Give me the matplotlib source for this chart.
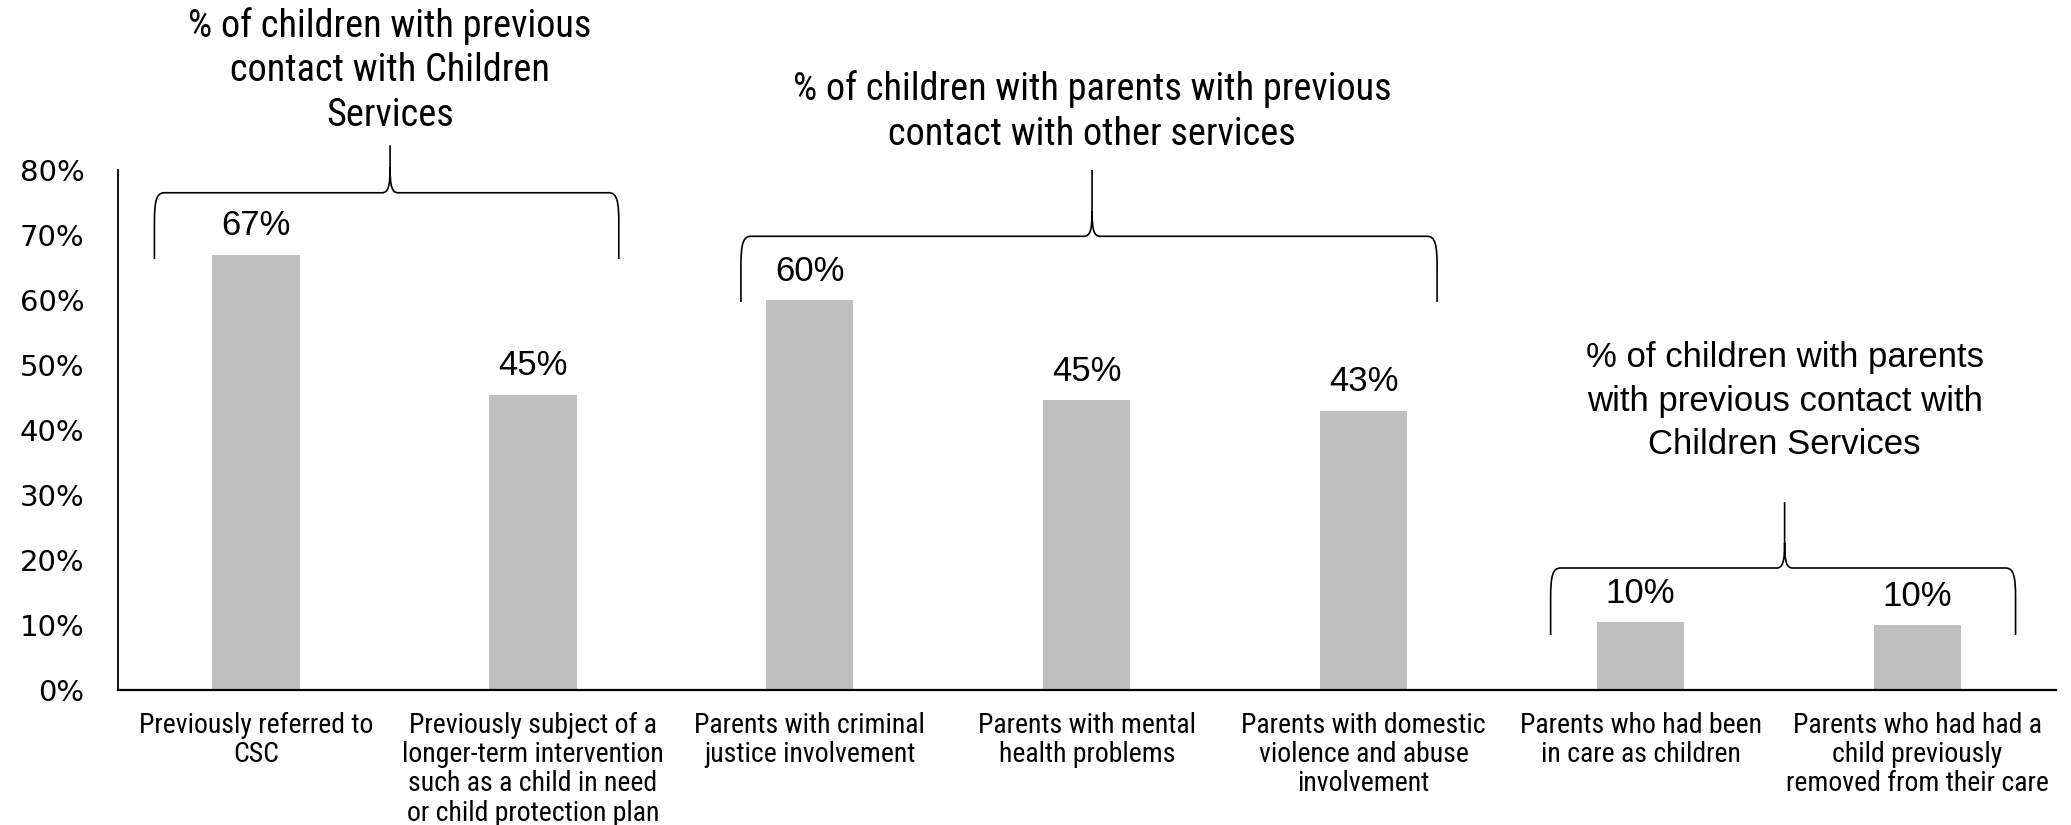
import matplotlib
matplotlib.use("Agg")
import matplotlib.pyplot as plt
from matplotlib.path import Path
from matplotlib.patches import PathPatch
from matplotlib import font_manager
import numpy as np

categories = [
    "Previously referred to\nCSC",
    "Previously subject of a\nlonger-term intervention\nsuch as a child in need\nor child protection plan",
    "Parents with criminal\njustice involvement",
    "Parents with mental\nhealth problems",
    "Parents with domestic\nviolence and abuse\ninvolvement",
    "Parents who had been\nin care as children",
    "Parents who had had a\nchild previously\nremoved from their care",
]
values = [0.67, 0.454, 0.60, 0.446, 0.43, 0.104, 0.10]
value_labels = ["67%", "45%", "60%", "45%", "43%", "10%", "10%"]
yticks = [0, 0.1, 0.2, 0.3, 0.4, 0.5, 0.6, 0.7, 0.8]
ytick_labels = ["0%", "10%", "20%", "30%", "40%", "50%", "60%", "70%", "80%"]
group_titles = [
    "% of children with previous\ncontact with Children\nServices",
    "% of children with parents with previous\ncontact with other services",
    "% of children with parents\nwith previous contact with\nChildren Services",
]

installed = {f.name for f in font_manager.fontManager.ttflist}
narrow_pick = None
for cand in ["Liberation Sans Narrow", "Roboto Condensed", "Open Sans Condensed",
             "Noto Sans Condensed", "Roboto"]:
    if cand in installed:
        narrow_pick = cand
        break
NARROW = [narrow_pick or "DejaVu Sans", "DejaVu Sans"]
REGULAR = ["Liberation Sans", "DejaVu Sans"]

W, H = 2071, 825
fig = plt.figure(figsize=(W / 100, H / 100), dpi=100)
ax_l, ax_r, ax_b, ax_t = 117.6, 2056, 690, 170
ax = fig.add_axes([ax_l / W, 1 - ax_b / H, (ax_r - ax_l) / W, (ax_b - ax_t) / H])

x = np.arange(len(categories))
ax.bar(x, values, width=0.315, color="#BFBFBF", zorder=2)
ax.set_xlim(-0.5, len(categories) - 0.5)
ax.set_ylim(0, 0.8)

for xi, v, lab in zip(x, values, value_labels):
    ax.annotate(lab, (xi, v), xytext=(0, 14), textcoords="offset points",
                ha="center", va="baseline", fontsize=25, family=REGULAR)

ax.set_yticks(yticks)
ax.set_yticklabels(ytick_labels, family="DejaVu Sans", fontsize=21)
ax.set_xticks(x)
ax.set_xticklabels(categories, family=NARROW, fontsize=20, linespacing=1.1)
ax.tick_params(axis="y", length=0, pad=24)
ax.tick_params(axis="x", length=0, pad=16)
for s in ["top", "right"]:
    ax.spines[s].set_visible(False)
ax.spines["left"].set_linewidth(1.3)
ax.spines["bottom"].set_linewidth(1.6)
ax.spines["left"].set_color("black")
ax.spines["bottom"].set_color("black")

px_x = (len(categories)) / (ax_r - ax_l)  # data units per pixel (x)
px_y = 0.8 / (ax_b - ax_t)                # data units per pixel (y)


def brace(x0, x1, xt, yb, yh, yt):
    dx = lambda p: p * px_x
    dy = lambda p: p * px_y
    verts = [
        (x0, yb), (x0, yh - dy(30)),
        (x0, yh - dy(8)), (x0 + dx(2), yh), (x0 + dx(10), yh),
        (xt - dx(8), yh),
        (xt - dx(2), yh), (xt, yh + dy(6)), (xt, yh + dy(25)),
        (xt, yt),
        (xt, yh + dy(25)),
        (xt, yh + dy(6)), (xt + dx(2), yh), (xt + dx(8), yh),
        (x1 - dx(10), yh),
        (x1 - dx(2), yh), (x1, yh - dy(8)), (x1, yh - dy(30)),
        (x1, yb),
    ]
    codes = [Path.MOVETO, Path.LINETO,
             Path.CURVE4, Path.CURVE4, Path.CURVE4,
             Path.LINETO,
             Path.CURVE4, Path.CURVE4, Path.CURVE4,
             Path.LINETO,
             Path.MOVETO,
             Path.CURVE4, Path.CURVE4, Path.CURVE4,
             Path.LINETO,
             Path.CURVE4, Path.CURVE4, Path.CURVE4,
             Path.LINETO]
    ax.add_patch(PathPatch(Path(verts, codes), fill=False, lw=1.2,
                           edgecolor="black", clip_on=False, zorder=3))


brace(-0.367, 1.31, 0.484, 0.663, 0.765, 0.838)
brace(1.751, 4.265, 3.019, 0.597, 0.698, 0.80)
brace(4.675, 6.354, 5.52, 0.0846, 0.1877, 0.289)

ax.text(0.484, 0.953, group_titles[0], ha="center", va="center",
        fontsize=27.5, family=NARROW, linespacing=1.25, clip_on=False)
ax.text(3.019, 0.890, group_titles[1], ha="center", va="center",
        fontsize=27.5, family=NARROW, linespacing=1.28, clip_on=False)
ax.text(5.52, 0.444, group_titles[2], ha="center", va="center",
        fontsize=25, family=REGULAR, linespacing=1.4, clip_on=False)

fig.savefig("out.png", dpi=100)
